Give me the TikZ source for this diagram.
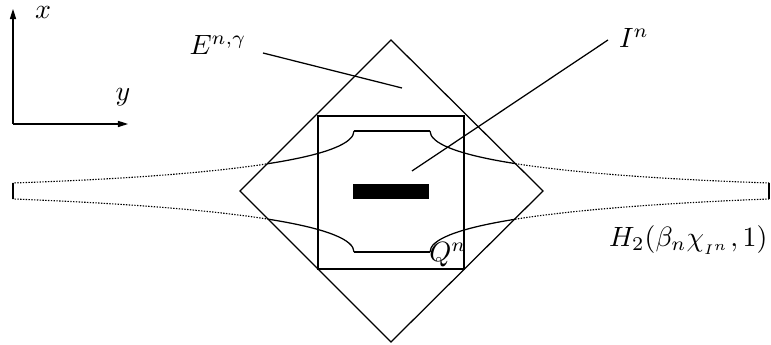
\documentclass[tikz,border=0pt]{standalone}
\usepackage{amsmath, amssymb}
\usetikzlibrary{arrows.meta}

\begin{document}
\begin{tikzpicture}[x=0.0126cm, y=-0.0126cm, font=\normalsize,
    axis/.style={-{Triangle[length=3.6pt, width=2.2pt]}},
    edge/.style={line width=0.45pt},
    tail/.style={line width=0.4pt, dash pattern=on 0.5pt off 0.5pt},
    lab/.style={inner sep=0pt}
  ]
  \useasboundingbox (0,0) rectangle (771,345);

  % Achsen
  \coordinate (O) at (13,124);
  \coordinate (xend) at (13,9);
  \coordinate (yend) at (128,124);
  \draw[axis] (O) -- (xend);
  \draw[axis] (O) -- (yend);
  \node[lab] (labx) at (43,13) {$x$};
  \node[lab] (laby) at (123,97) {$y$};

  % Raute und Quadrat
  \coordinate (Dt) at (391,40);
  \coordinate (Dr) at (543,191);
  \coordinate (Db) at (391,342);
  \coordinate (Dl) at (240,191);
  \draw[edge] (Dt) -- (Dr) -- (Db) -- (Dl) -- cycle;
  \draw[edge] (318,116) rectangle (464,269);

  % innere Form, oben und unten
  \draw[edge] (354,131) -- (430,131);
  \draw[edge] (354,252) -- (430,252);
  \fill (353,184) rectangle (429,199);

  % Kurven: innen durchgezogen ...
  \begin{scope}
    \clip (Dt) -- (Dr) -- (Db) -- (Dl) -- cycle;
    \draw[edge] (354,131) .. controls (354,155) and (250,175) .. (13,183);
    \draw[edge] (430,131) .. controls (430,155) and (534,175) .. (769,183);
    \draw[edge] (354,252) .. controls (354,228) and (250,208) .. (13,199);
    \draw[edge] (430,252) .. controls (430,228) and (534,208) .. (769,199);
  \end{scope}
  % ... aussen gepunktet
  \begin{scope}[even odd rule]
    \clip (0,0) rectangle (771,345)
      (Dt) -- (Dr) -- (Db) -- (Dl) -- cycle;
    \draw[tail] (354,131) .. controls (354,155) and (250,175) .. (13,183);
    \draw[tail] (430,131) .. controls (430,155) and (534,175) .. (769,183);
    \draw[tail] (354,252) .. controls (354,228) and (250,208) .. (13,199);
    \draw[tail] (430,252) .. controls (430,228) and (534,208) .. (769,199);
  \end{scope}
  \draw[edge] (13,183) -- (13,199);
  \draw[edge] (769,183) -- (769,199);

  % Beschriftungen
  \node[lab] (labE) at (218,45) {$E^{n,\gamma}$};
  \node[lab] (labI) at (634,38) {$I^n$};
  \node[lab] (labQ) at (448,255) {$Q^n$};
  \node[lab, anchor=east] (labH) at (768,240) {$H_2(\beta_n\chi_{_{I^n}},1)$};
  \coordinate (Etail) at (263,53);
  \coordinate (Etip) at (402,88);
  \coordinate (Itail) at (608,40);
  \coordinate (Itip) at (412,171);
  \draw[edge] (Etail) -- (Etip);
  \draw[edge] (Itail) -- (Itip);
\end{tikzpicture}
\end{document}
